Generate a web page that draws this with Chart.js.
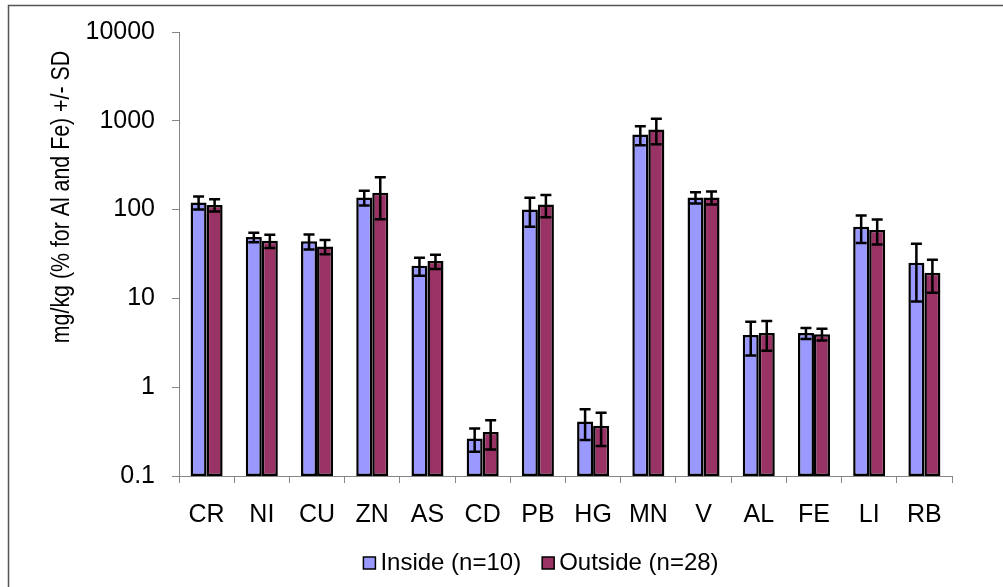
<!DOCTYPE html>
<html>
<head>
<meta charset="utf-8">
<script src="https://cdn.jsdelivr.net/npm/chart.js@4/dist/chart.umd.min.js"></script>
<style>
  html, body { margin: 0; padding: 0; background: #ffffff; }
  #wrap { position: relative; width: 1003px; height: 587px; }
</style>
</head>
<body>
<div id="wrap"><canvas id="c" width="1003" height="587"></canvas></div>
<script>
// ---- data ----
const categories = ['CR','NI','CU','ZN','AS','CD','PB','HG','MN','V','AL','FE','LI','RB'];
const insideMean = [120, 49, 44, 137, 23.3, 0.265, 100, 0.41, 700, 137, 3.87, 4.07, 64, 25.2];
const insideSD   = [20, 6, 8.5, 26, 5.3, 0.077, 36, 0.155, 170, 20, 1.6, 0.58, 22, 16];
const outsideMean = [113, 44.5, 38.5, 155, 26.3, 0.312, 114, 0.367, 800, 137, 4.07, 3.95, 59, 19.4];
const outsideSD   = [18, 7.5, 7, 77, 4.8, 0.113, 32, 0.15, 255, 23, 1.5, 0.6, 18.5, 7.8];
const seriesNames = ['Inside (n=10)', 'Outside (n=28)'];
const yTicks = [0.1, 1, 10, 100, 1000, 10000];
const yTickLabels = ['0.1', '1', '10', '100', '1000', '10000'];
const yTitle = 'mg/kg (% for Al and Fe) +/- SD';

const FONT = '"Liberation Sans", Arial, sans-serif';
const AXIS_GRAY = '#868686';

const errorBars = {
  id: 'errorBars',
  afterDatasetsDraw(chart) {
    const ctx = chart.ctx;
    const y = chart.scales.y;
    chart.data.datasets.forEach((ds, di) => {
      const meta = chart.getDatasetMeta(di);
      meta.data.forEach((bar, i) => {
        const m = ds.data[i], sd = ds.sd[i];
        const top = y.getPixelForValue(m + sd);
        const lowVal = m - sd;
        const bot = lowVal > 0 ? y.getPixelForValue(lowVal) : y.bottom;
        ctx.save();
        ctx.strokeStyle = '#000';
        ctx.lineWidth = 2.5;
        ctx.beginPath();
        ctx.moveTo(bar.x, top); ctx.lineTo(bar.x, bot);
        ctx.moveTo(bar.x - 5.5, top); ctx.lineTo(bar.x + 5.5, top);
        ctx.moveTo(bar.x - 5.5, bot); ctx.lineTo(bar.x + 5.5, bot);
        ctx.stroke();
        ctx.restore();
      });
    });
  }
};

const decor = {
  id: 'decor',
  beforeDraw(chart) {
    const ctx = chart.ctx;
    ctx.save();
    ctx.fillStyle = '#fff';
    ctx.fillRect(0, 0, chart.width, chart.height);
    ctx.strokeStyle = '#555';
    ctx.lineWidth = 1.5;
    ctx.strokeRect(8.5, 5.5, chart.width + 10, chart.height + 10);
    ctx.restore();
  },
  afterDraw(chart) {
    const ctx = chart.ctx;
    ctx.save();
    // y-axis title
    ctx.translate(62, 197);
    ctx.rotate(-Math.PI / 2);
    ctx.scale(0.97, 1.15);
    ctx.font = '22px ' + FONT;
    ctx.fillStyle = '#000';
    ctx.textAlign = 'center';
    ctx.textBaseline = 'middle';
    ctx.fillText(yTitle, 0, 0);
    ctx.restore();

    // legend
    ctx.save();
    ctx.font = '24px ' + FONT;
    ctx.textBaseline = 'middle';
    const box = 12, gapText = 5, gapItem = 21, cy = 563;
    const items = chart.data.datasets.map(d => ({ text: d.label, color: d.backgroundColor }));
    let total = 0;
    items.forEach((it, k) => {
      it.w = ctx.measureText(it.text).width;
      total += box + gapText + it.w + (k ? gapItem : 0);
    });
    let x = 541 - total / 2;
    items.forEach((it, k) => {
      if (k) x += gapItem;
      ctx.fillStyle = it.color;
      ctx.fillRect(x, cy - box / 2, box, box);
      ctx.strokeStyle = '#000';
      ctx.lineWidth = 1.5;
      ctx.strokeRect(x, cy - box / 2, box, box);
      ctx.fillStyle = '#000';
      ctx.textAlign = 'left';
      ctx.fillText(it.text, x + box + gapText, cy);
      x += box + gapText + it.w;
    });
    ctx.restore();
  }
};

new Chart(document.getElementById('c'), {
  type: 'bar',
  data: {
    labels: categories,
    datasets: [
      { label: seriesNames[0], data: insideMean, sd: insideSD,
        backgroundColor: '#9999FF', borderColor: '#000', borderWidth: 2.5, borderSkipped: false },
      { label: seriesNames[1], data: outsideMean, sd: outsideSD,
        backgroundColor: '#993366', borderColor: '#000', borderWidth: 2.5, borderSkipped: false }
    ]
  },
  options: {
    responsive: false,
    animation: false,
    devicePixelRatio: 1,
    layout: { padding: { left: 0, right: 51, top: 31, bottom: 0 } },
    categoryPercentage: 0.58,
    barPercentage: 1,
    plugins: { legend: { display: false }, tooltip: { enabled: false } },
    scales: {
      x: {
        afterFit(s) { s.height = 111; },
        grid: { offset: true, drawOnChartArea: false, drawTicks: true, tickLength: 7, color: AXIS_GRAY },
        border: { display: true, color: AXIS_GRAY, width: 1 },
        ticks: { color: '#000', font: { family: FONT, size: 25 }, padding: 17, maxRotation: 0, autoSkip: false }
      },
      y: {
        type: 'logarithmic',
        min: 0.1,
        max: 10000,
        afterFit(s) { s.width = 179; },
        afterBuildTicks(s) { s.ticks = yTicks.map(v => ({ value: v })); },
        grid: { drawOnChartArea: false, drawTicks: true, tickLength: 7, color: AXIS_GRAY },
        border: { display: true, color: AXIS_GRAY, width: 1 },
        ticks: {
          color: '#000', font: { family: FONT, size: 25 }, padding: 17,
          callback(v) { const i = yTicks.indexOf(v); return i >= 0 ? yTickLabels[i] : ''; }
        }
      }
    }
  },
  plugins: [decor, errorBars]
});
</script>
</body>
</html>
